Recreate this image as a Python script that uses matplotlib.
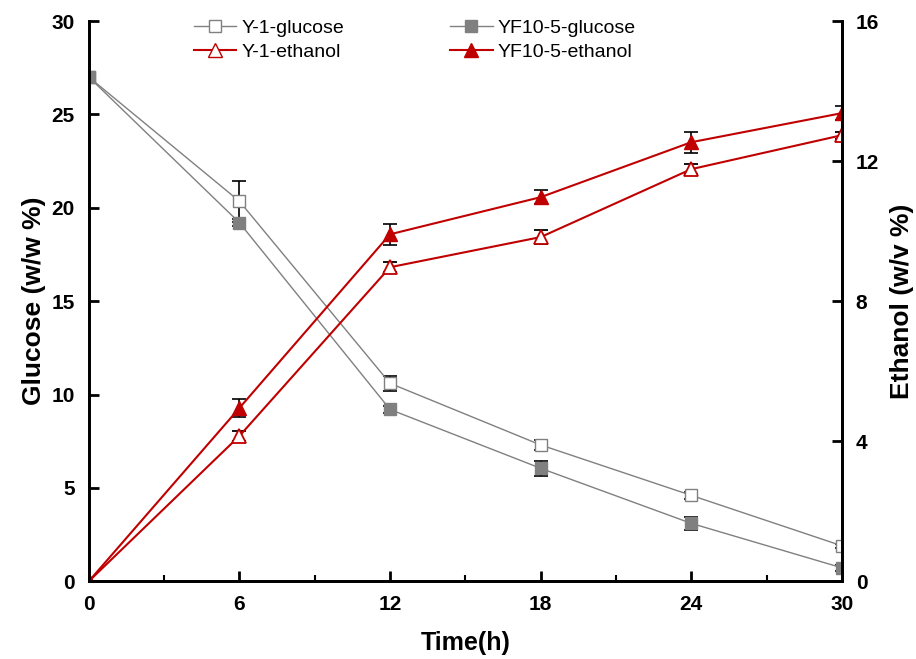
import matplotlib
matplotlib.use("Agg")
import matplotlib.pyplot as plt
from matplotlib.ticker import MultipleLocator
from matplotlib.lines import Line2D

plt.rcParams['font.family'] = ['Liberation Sans', 'DejaVu Sans']

# 数据
time_h = [0, 6, 12, 18, 24, 30]
glu_y1 = [27.0, 20.35, 10.6, 7.3, 4.6, 1.9]
glu_y1_err = [0.0, 1.1, 0.4, 0.25, 0.2, 0.1]
glu_yf = [27.0, 19.2, 9.2, 6.05, 3.1, 0.72]
glu_yf_err = [0.0, 0.2, 0.2, 0.4, 0.35, 0.15]
eth_y1 = [0.0, 4.15, 8.97, 9.83, 11.77, 12.74]
eth_y1_err = [0.0, 0.15, 0.15, 0.2, 0.15, 0.1]
eth_yf = [0.0, 4.95, 9.91, 10.97, 12.54, 13.37]
eth_yf_err = [0.0, 0.25, 0.3, 0.2, 0.3, 0.2]

grey = '#808080'
red = '#C00000'

fig = plt.figure(figsize=(9.16, 6.59), dpi=100)
ax = fig.add_axes([0.097, 0.118, 0.822, 0.85])
ax2 = ax.twinx()

eb = dict(ecolor='black', elinewidth=1.2, capsize=5, capthick=1.2)

ax.errorbar(time_h, glu_y1, yerr=glu_y1_err, color=grey, lw=1, marker='s',
            ms=8, mfc='white', mec=grey, **eb)
ax.errorbar(time_h, glu_yf, yerr=glu_yf_err, color=grey, lw=1, marker='s',
            ms=8, mfc=grey, mec=grey, **eb)
ax2.errorbar(time_h, eth_y1, yerr=eth_y1_err, color=red, lw=1.5, marker='^',
             ms=10, mfc='white', mec=red, mew=1.3, **eb)
ax2.errorbar(time_h, eth_yf, yerr=eth_yf_err, color=red, lw=1.5, marker='^',
             ms=10, mfc=red, mec=red, **eb)

ax.set_xlim(0, 30)
ax.set_ylim(0, 30)
ax2.set_ylim(0, 16)
ax.xaxis.set_major_locator(MultipleLocator(6))
ax.xaxis.set_minor_locator(MultipleLocator(3))
ax.yaxis.set_major_locator(MultipleLocator(5))
ax2.yaxis.set_major_locator(MultipleLocator(4))

for a in (ax, ax2):
    a.spines['top'].set_visible(False)
    for s in a.spines.values():
        s.set_linewidth(2)
    a.tick_params(direction='in', width=2, length=7, labelsize=15, pad=10)
    a.tick_params(which='minor', direction='in', width=1.5, length=4)
    for lab in a.get_xticklabels() + a.get_yticklabels():
        lab.set_fontweight('bold')

ax.set_xlabel('Time(h)', fontsize=18, fontweight='bold', labelpad=12)
ax.set_ylabel('Glucose (w/w %)', fontsize=19, fontweight='bold', labelpad=4)
ax2.set_ylabel('Ethanol (w/v %)', fontsize=19, fontweight='bold', labelpad=8)

# 图例用代理句柄，不显示误差线
hs = [Line2D([], [], color=grey, lw=1, marker='s', ms=8, mfc='white', mec=grey),
      Line2D([], [], color=red, lw=1.5, marker='^', ms=10, mfc='white', mec=red),
      Line2D([], [], color=grey, lw=1, marker='s', ms=8, mfc=grey, mec=grey),
      Line2D([], [], color=red, lw=1.5, marker='^', ms=10, mfc=red, mec=red)]
ax.legend(hs, ['Y-1-glucose', 'Y-1-ethanol', 'YF10-5-glucose', 'YF10-5-ethanol'],
          ncol=2, frameon=False, loc='upper left', bbox_to_anchor=(0.116, 1.035),
          fontsize=14, columnspacing=5.45, handlelength=2.2, handletextpad=0.25,
          labelspacing=0.35)

fig.savefig('out.png', dpi=100)
